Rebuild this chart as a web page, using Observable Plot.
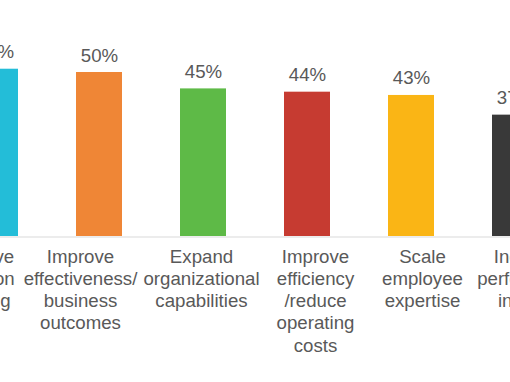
<!DOCTYPE html>
<html><head><meta charset="utf-8">
<script src="https://cdn.jsdelivr.net/npm/d3@7"></script>
<script src="https://cdn.jsdelivr.net/npm/@observablehq/plot@0.6"></script>
<style>
html,body{margin:0;padding:0;background:#fff;overflow:hidden}
#chart svg{overflow:hidden;display:block}
</style>
</head><body><div id="chart"></div>
<script>
const categories = [
  "Improve\ndecision\nmaking",
  "Improve\neffectiveness/\nbusiness\noutcomes",
  "Expand\norganizational\ncapabilities",
  "Improve\nefficiency\n/reduce\noperating\ncosts",
  "Scale\nemployee\nexpertise",
  "Increase\nperformance\ninsights"
];
const values = [51, 50, 45, 44, 43, 37];
const valueLabels = ["51%", "50%", "45%", "44%", "43%", "37%"];
const colors = ["#23BDD8", "#EF8636", "#5EBA47", "#C63B31", "#FAB515", "#393939"];

const data = categories.map((c, i) => ({category: c, value: values[i], label: valueLabels[i], color: colors[i]}));

// horizontal nudges of the category labels (style only)
const labelShift = [-15, -19, -2, 8, 11, 14];
const font = "'Liberation Sans', Arial, sans-serif";
const fs = 18.67;

const chart = Plot.plot({
  width: 510,
  height: 382,
  marginLeft: 0, marginRight: 0, marginTop: 0, marginBottom: 0,
  style: {fontFamily: font, background: "#fff", overflow: "hidden"},
  x: {type: "band", domain: categories, range: [-57, 567], paddingInner: 0.56, paddingOuter: 0.28, axis: null},
  y: {domain: [0, 60], range: [236, 236 - 3.28 * 60], axis: null},
  color: {type: "identity"},
  marks: [
    Plot.barY(data, {x: "category", y: "value", fill: "color"}),
    Plot.ruleY([0], {stroke: "#D9D9D9", strokeWidth: 1, dy: 0.5}),
    Plot.text(data, {x: "category", y: "value", text: "label", lineAnchor: "bottom", dy: -11,
      fill: "#595959", fontSize: fs, fontFamily: font}),
    ...data.map((d, i) => Plot.text([d], {x: "category", y: () => 0, text: "category",
      lineAnchor: "top", lineHeight: 1.19, dy: 10.5, dx: labelShift[i],
      fill: "#595959", fontSize: fs, fontFamily: font}))
  ]
});
document.getElementById("chart").appendChild(chart);
</script>
</body></html>
